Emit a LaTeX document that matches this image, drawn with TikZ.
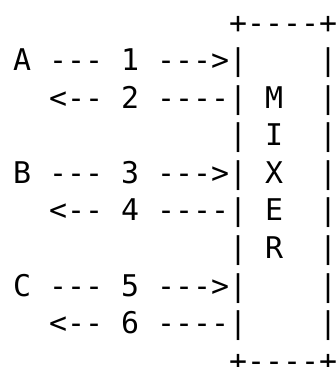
\documentclass[tikz,border=0pt]{standalone}
\usepackage{fontspec}
\setmonofont{DejaVu Sans Mono}
\usetikzlibrary{positioning}

\begin{document}
\begin{tikzpicture}[x=1pt,y=1pt,
    row/.style={anchor=base west,inner sep=0pt,
      font=\ttfamily\fontsize{29.9}{37.6}\selectfont}]
    \useasboundingbox (0,0) rectangle (336,-367);
    \node[row] (boxtop) at (13,-33.5)  {~~~~~~~~~~~~+----+};
    \node[row] (a_in)   at (13,-70.5)  {A~---~1~--->|~~~~|};
    \node[row] (a_out)  at (13,-108.1) {~~<--~2~----|~M~~|};
    \node[row] (mix_i)  at (13,-145.7) {~~~~~~~~~~~~|~I~~|};
    \node[row] (b_in)   at (13,-183.3) {B~---~3~--->|~X~~|};
    \node[row] (b_out)  at (13,-220.9) {~~<--~4~----|~E~~|};
    \node[row] (mix_r)  at (13,-258.5) {~~~~~~~~~~~~|~R~~|};
    \node[row] (c_in)   at (13,-296.1) {C~---~5~--->|~~~~|};
    \node[row] (c_out)  at (13,-333.7) {~~<--~6~----|~~~~|};
    \node[row] (boxbot) at (13,-371.3) {~~~~~~~~~~~~+----+};
\end{tikzpicture}
\end{document}
